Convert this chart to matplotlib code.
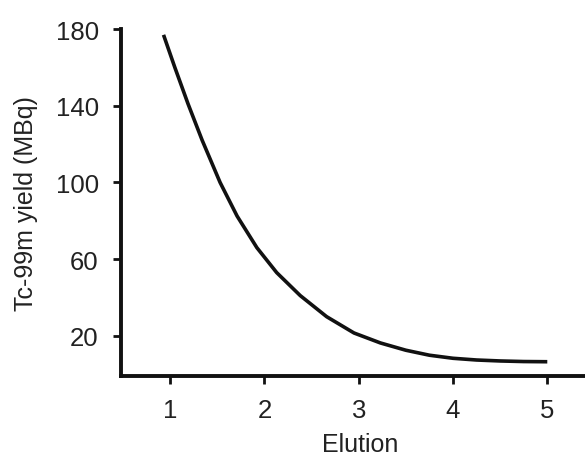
import matplotlib
matplotlib.use('Agg')
import matplotlib.pyplot as plt

# Values
elution = [0.93, 1.05, 1.19, 1.34, 1.53, 1.71, 1.92, 2.13, 2.38, 2.66,
           2.95, 3.23, 3.5, 3.75, 4.0, 4.25, 4.5, 4.75, 5.0]
yield_mbq = [177, 160, 141, 122, 100, 82.5, 66, 53, 41, 30,
             21.5, 16.3, 12.5, 9.9, 8.3, 7.4, 6.9, 6.6, 6.5]
x_ticks = [1, 2, 3, 4, 5]
y_ticks = [20, 60, 100, 140, 180]

plt.rcParams['font.family'] = ['Liberation Sans', 'DejaVu Sans']

fig = plt.figure(figsize=(5.85, 4.56), dpi=100)
ax = fig.add_axes([0.207, 0.173, 0.793, 0.761])

ax.plot(elution, yield_mbq, color='#111111', linewidth=2.6,
        solid_capstyle='butt', solid_joinstyle='round')

ax.set_xlim(0.48, 5.40)
ax.set_ylim(-1, 180)
ax.set_xticks(x_ticks)
ax.set_yticks(y_ticks)
ax.tick_params(axis='both', direction='out', length=6, width=2,
               labelsize=18.5, pad=10, color='#111111', labelcolor='#222222')

for side in ['top', 'right']:
    ax.spines[side].set_visible(False)
for side in ['left', 'bottom']:
    ax.spines[side].set_linewidth(2.8)
    ax.spines[side].set_color('#111111')

ax.set_xlabel('Elution', fontsize=18, color='#222222')
ax.set_ylabel('Tc-99m yield (MBq)', fontsize=18, color='#222222')
ax.xaxis.set_label_coords(0.515, -0.16)
ax.yaxis.set_label_coords(-0.18, 0.5)

fig.savefig('out.png', dpi=100)
